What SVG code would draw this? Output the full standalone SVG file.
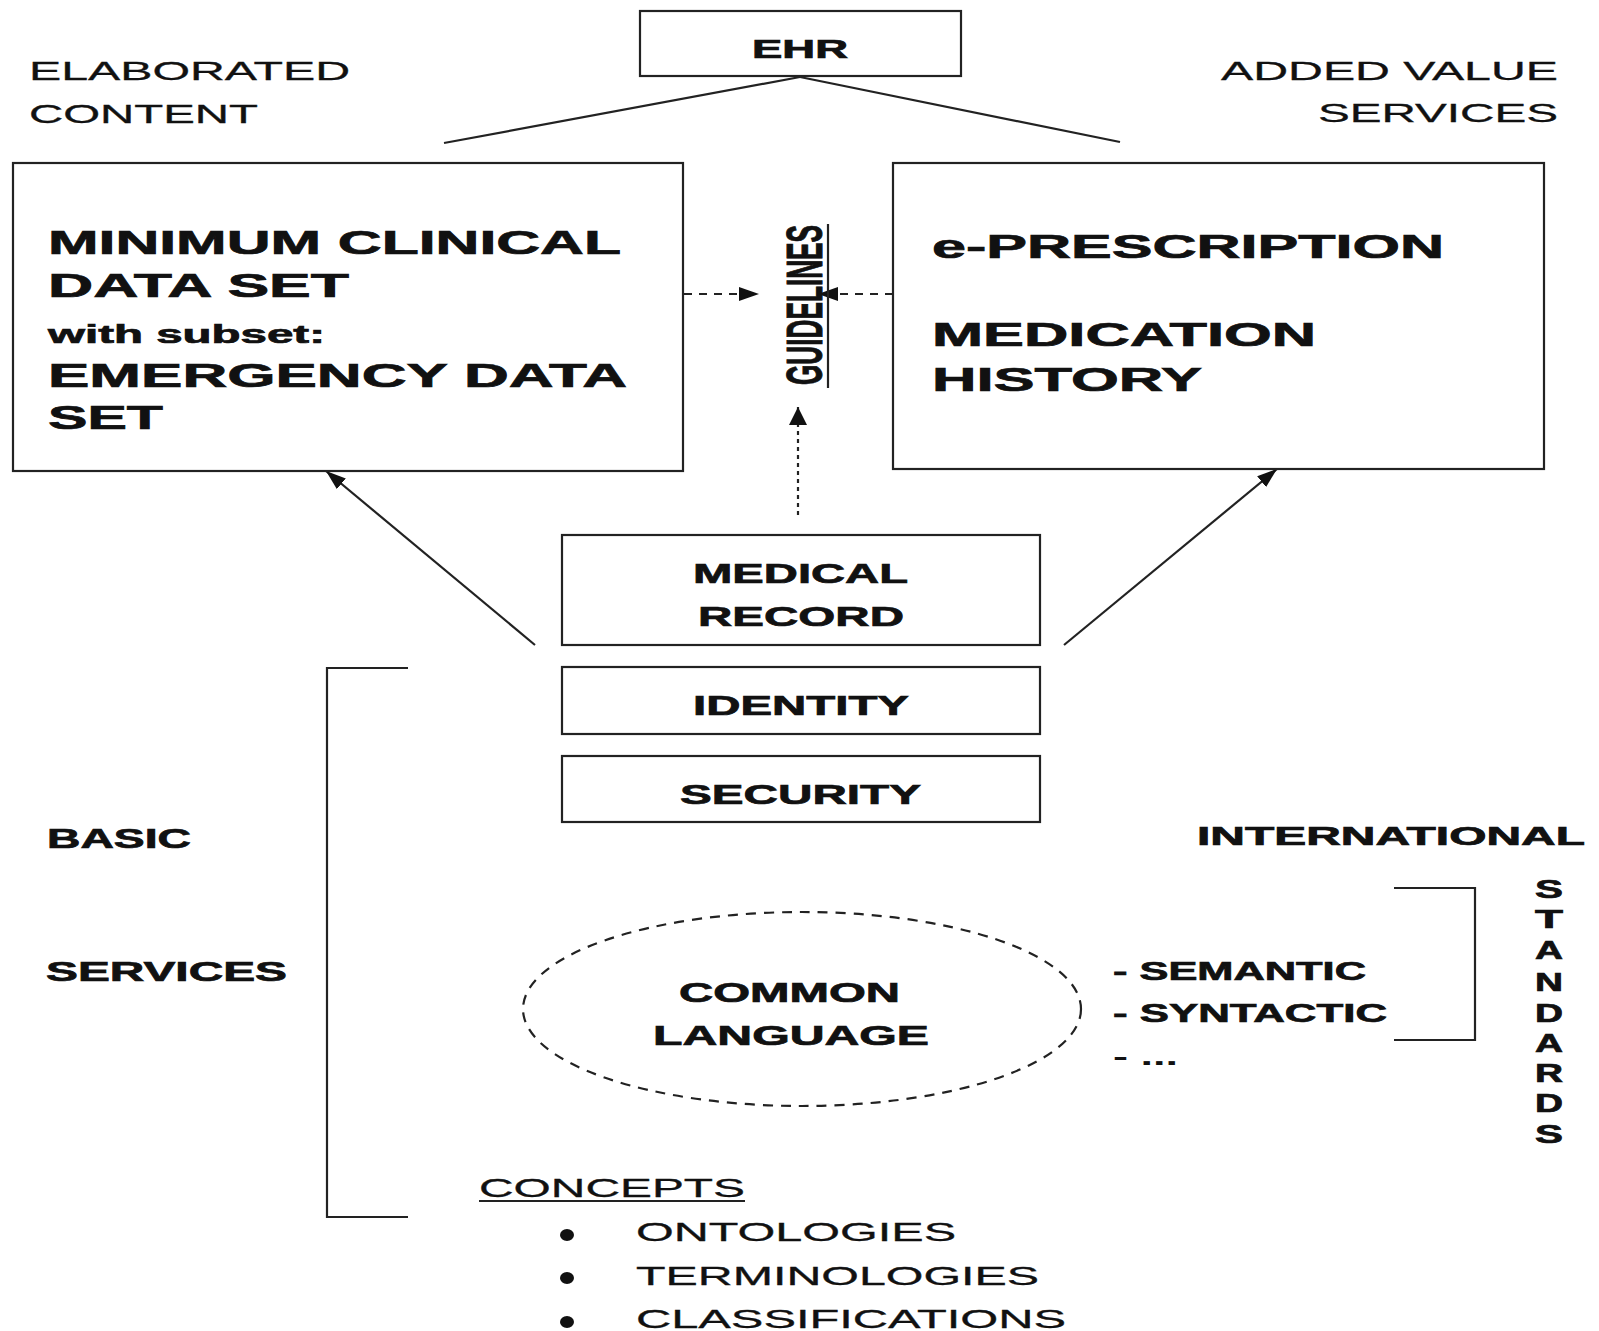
<svg xmlns="http://www.w3.org/2000/svg" width="1599" height="1331" viewBox="0 0 1599 1331">
<style>
text{font-family:"Liberation Sans",Arial,sans-serif;fill:#111;}
.r{font-size:26px;font-weight:normal;stroke:#111;stroke-width:0.3;}
.b{font-weight:bold;stroke:#111;stroke-width:0.7;}
.big{font-size:33px;}
.box{fill:#fff;stroke:#222;stroke-width:2.2;}
.ln{stroke:#222;stroke-width:2.2;fill:none;}
</style>
<defs>
<marker id="ah" viewBox="0 0 20 14" refX="20" refY="7" markerWidth="20" markerHeight="14" markerUnits="userSpaceOnUse" orient="auto"><path d="M0,0 L20,7 L0,14 z" fill="#111"/></marker>
<marker id="ahs" viewBox="0 0 18 18" refX="18" refY="9" markerWidth="18" markerHeight="18" markerUnits="userSpaceOnUse" orient="auto"><path d="M0,0 L18,9 L0,18 z" fill="#111"/></marker>
</defs>
<rect width="1599" height="1331" fill="#fff"/>

<g id="labels">
<text class="r" x="29" y="80" textLength="321" lengthAdjust="spacingAndGlyphs">ELABORATED</text>
<text class="r" x="29" y="123" textLength="229" lengthAdjust="spacingAndGlyphs">CONTENT</text>
<text class="r" x="1221" y="80" textLength="337" lengthAdjust="spacingAndGlyphs">ADDED VALUE</text>
<text class="r" x="1318" y="122" textLength="240" lengthAdjust="spacingAndGlyphs">SERVICES</text>
<text class="b" font-size="27" x="47" y="848" textLength="144" lengthAdjust="spacingAndGlyphs">BASIC</text>
<text class="b" font-size="27" x="46" y="981" textLength="241" lengthAdjust="spacingAndGlyphs">SERVICES</text>
<text class="b" font-size="26" x="1197" y="845" textLength="388" lengthAdjust="spacingAndGlyphs">INTERNATIONAL</text>
<text class="b" font-size="26" x="1113" y="980" textLength="253" lengthAdjust="spacingAndGlyphs">- SEMANTIC</text>
<text class="b" font-size="26" x="1113" y="1022" textLength="274" lengthAdjust="spacingAndGlyphs">- SYNTACTIC</text>
<text class="b" font-size="26" x="1113" y="1065" textLength="65" lengthAdjust="spacingAndGlyphs" style="stroke-width:0">- ...</text>
</g>

<g id="standards">
<text class="b" font-size="25" x="1535" y="898" textLength="28" lengthAdjust="spacingAndGlyphs">S</text>
<text class="b" font-size="25" x="1535" y="928" textLength="28" lengthAdjust="spacingAndGlyphs">T</text>
<text class="b" font-size="25" x="1535" y="959" textLength="28" lengthAdjust="spacingAndGlyphs">A</text>
<text class="b" font-size="25" x="1535" y="991" textLength="28" lengthAdjust="spacingAndGlyphs">N</text>
<text class="b" font-size="25" x="1535" y="1022" textLength="28" lengthAdjust="spacingAndGlyphs">D</text>
<text class="b" font-size="25" x="1535" y="1052" textLength="28" lengthAdjust="spacingAndGlyphs">A</text>
<text class="b" font-size="25" x="1535" y="1082" textLength="28" lengthAdjust="spacingAndGlyphs">R</text>
<text class="b" font-size="25" x="1535" y="1112" textLength="28" lengthAdjust="spacingAndGlyphs">D</text>
<text class="b" font-size="25" x="1535" y="1143" textLength="28" lengthAdjust="spacingAndGlyphs">S</text>
</g>

<g id="brackets">
<polyline class="ln" points="408,668 327,668 327,1217 408,1217"/>
<polyline class="ln" points="1394,888 1475,888 1475,1040 1394,1040"/>
</g>

<g id="connectors">
<line class="ln" x1="800" y1="77" x2="444" y2="143"/>
<line class="ln" x1="800" y1="77" x2="1120" y2="142"/>
<line class="ln" x1="535" y1="645" x2="326" y2="471" marker-end="url(#ah)"/>
<line class="ln" x1="1064" y1="645" x2="1277" y2="469" marker-end="url(#ah)"/>
<line class="ln" x1="684" y1="294" x2="759" y2="294" stroke-dasharray="8,7" marker-end="url(#ah)"/>
<line class="ln" x1="893" y1="294" x2="818" y2="294" stroke-dasharray="8,7" marker-end="url(#ah)"/>
<line class="ln" x1="798" y1="515" x2="798" y2="407" stroke-dasharray="4,4" stroke-width="3" marker-end="url(#ahs)"/>
</g>

<g id="ehr">
<rect class="box" x="640" y="11" width="321" height="65"/>
<text class="b" font-size="25" x="752" y="58" textLength="96" lengthAdjust="spacingAndGlyphs">EHR</text>
</g>

<g id="mcds">
<rect class="box" x="13" y="163" width="670" height="308"/>
<text class="b big" x="48" y="254" textLength="573" lengthAdjust="spacingAndGlyphs">MINIMUM CLINICAL</text>
<text class="b big" x="48" y="297" textLength="301" lengthAdjust="spacingAndGlyphs">DATA SET</text>
<text class="b" font-size="26" x="48" y="343" textLength="277" lengthAdjust="spacingAndGlyphs">with subset:</text>
<text class="b big" x="48" y="387" textLength="579" lengthAdjust="spacingAndGlyphs">EMERGENCY DATA</text>
<text class="b big" x="48" y="429" textLength="115" lengthAdjust="spacingAndGlyphs">SET</text>
</g>

<g id="eprescription">
<rect class="box" x="893" y="163" width="651" height="306"/>
<text class="b big" x="932" y="258" textLength="512" lengthAdjust="spacingAndGlyphs">e-PRESCRIPTION</text>
<text class="b big" x="932" y="346" textLength="384" lengthAdjust="spacingAndGlyphs">MEDICATION</text>
<text class="b big" x="932" y="391" textLength="270" lengthAdjust="spacingAndGlyphs">HISTORY</text>
</g>

<g id="guidelines">
<text class="b" font-size="50" transform="translate(822,385) rotate(-90)" x="0" y="0" textLength="160" lengthAdjust="spacingAndGlyphs" style="stroke-width:1">GUIDELINES</text>
<line class="ln" x1="828" y1="224" x2="828" y2="388" stroke-width="3.5"/>
</g>

<g id="medical-record">
<rect class="box" x="562" y="535" width="478" height="110"/>
<text class="b" font-size="28" x="693" y="583" textLength="215" lengthAdjust="spacingAndGlyphs">MEDICAL</text>
<text class="b" font-size="28" x="698" y="626" textLength="206" lengthAdjust="spacingAndGlyphs">RECORD</text>
</g>

<g id="identity">
<rect class="box" x="562" y="667" width="478" height="67"/>
<text class="b" font-size="28" x="693" y="715" textLength="216" lengthAdjust="spacingAndGlyphs">IDENTITY</text>
</g>

<g id="security">
<rect class="box" x="562" y="756" width="478" height="66"/>
<text class="b" font-size="28" x="680" y="804" textLength="241" lengthAdjust="spacingAndGlyphs">SECURITY</text>
</g>

<g id="common-language">
<ellipse cx="802" cy="1009" rx="279" ry="97" fill="none" stroke="#222" stroke-width="2.2" stroke-dasharray="10,8"/>
<text class="b" font-size="27" x="679" y="1002" textLength="221" lengthAdjust="spacingAndGlyphs">COMMON</text>
<text class="b" font-size="27" x="653" y="1045" textLength="276" lengthAdjust="spacingAndGlyphs">LANGUAGE</text>
</g>

<g id="concepts">
<text class="r" x="479" y="1197" textLength="266" lengthAdjust="spacingAndGlyphs">CONCEPTS</text>
<line class="ln" x1="479" y1="1201" x2="745" y2="1201"/>
<ellipse cx="567" cy="1235" rx="7" ry="6" fill="#111"/>
<ellipse cx="567" cy="1278" rx="7" ry="6" fill="#111"/>
<ellipse cx="567" cy="1322" rx="7" ry="6" fill="#111"/>
<text class="r" x="636" y="1241" textLength="320" lengthAdjust="spacingAndGlyphs">ONTOLOGIES</text>
<text class="r" x="636" y="1285" textLength="403" lengthAdjust="spacingAndGlyphs">TERMINOLOGIES</text>
<text class="r" x="636" y="1328" textLength="430" lengthAdjust="spacingAndGlyphs">CLASSIFICATIONS</text>
</g>
</svg>
